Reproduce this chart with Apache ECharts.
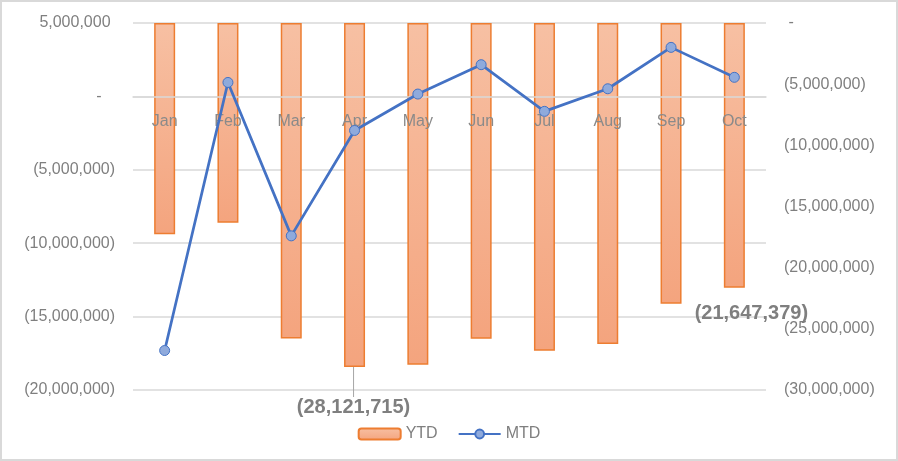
<!DOCTYPE html>
<html>
<head>
<meta charset="utf-8">
<script src="https://cdn.jsdelivr.net/npm/echarts@6/dist/echarts.min.js"></script>
<style>
  html, body { margin: 0; padding: 0; background: #fff; }
  #wrap { position: relative; width: 898px; height: 461px; }
  #chart { width: 898px; height: 461px; }
  #frame { position: absolute; left: 0; top: 0; width: 898px; height: 461px; box-sizing: border-box;
           border: 2px solid #d9d9d9; pointer-events: none; }
</style>
</head>
<body>
<div id="wrap">
  <div id="chart"></div>
  <div id="frame"></div>
</div>
<script>
// months on the category axis
const months = ['Jan', 'Feb', 'Mar', 'Apr', 'May', 'Jun', 'Jul', 'Aug', 'Sep', 'Oct'];

// YTD (bars, right axis)
const ytd = [-17270000, -16320000, -25780000, -28121715, -27940000, -25810000, -26790000, -26240000, -22950000, -21647379];

// MTD (line, left axis)
const mtd = [-17310000, 950000, -9500000, -2320000, 160000, 2160000, -1020000, 520000, 3340000, 1300000];

// which bars carry a data label
const labelledYtd = [3, 9];

const gray = '#7f7f7f';
const fontFamily = "'Liberation Sans', Arial, sans-serif";

function num(v) {
  return Math.abs(v).toLocaleString('en-US');
}
// accounting style, left axis is right aligned so pad like Excel does
function leftFmt(v) {
  if (v === 0) return '-   ';
  return v < 0 ? '(' + num(v) + ')' : num(v) + ' ';
}
function rightFmt(v) {
  if (v === 0) return ' -';
  return v < 0 ? '(' + num(v) + ')' : ' ' + num(v);
}

const barFill = new echarts.graphic.LinearGradient(0, 0, 0, 1, [
  { offset: 0, color: '#F7C0A3' },
  { offset: 1, color: '#F4A47E' }
]);

const ytdData = ytd.map((v, i) => {
  if (labelledYtd.indexOf(i) < 0) return v;
  return {
    value: v,
    label: {
      show: true,
      position: 'bottom',
      distance: 5,
      formatter: p => '(' + num(p.value) + ')',
      color: gray,
      fontSize: 20,
      fontWeight: 'bold',
      fontFamily: fontFamily
    },
    labelLine: { show: i === 3, lineStyle: { color: '#a6a6a6', width: 1 } }
  };
});

const chart = echarts.init(document.getElementById('chart'));
const option = {
  animation: false,
  textStyle: { fontFamily: fontFamily },
  grid: { left: 133, right: 132, top: 23, bottom: 71 },
  legend: {
    data: ['YTD', 'MTD'],
    left: 'center',
    top: 421,
    itemWidth: 42,
    itemHeight: 11,
    itemGap: 20,
    textStyle: { color: gray, fontSize: 16, fontFamily: fontFamily }
  },
  xAxis: {
    type: 'category',
    data: months,
    position: 'bottom',
    // category axis sits on the zero line of the left axis, drawn over the bars
    offset: -293,
    z: 3,
    axisTick: { show: false },
    axisLine: { show: true, onZero: false, lineStyle: { color: '#d9d9d9', width: 1.5 } },
    axisLabel: { color: '#8a8a8a', fontSize: 16, margin: 17 }
  },
  yAxis: [
    {
      type: 'value',
      min: -20000000,
      max: 5000000,
      interval: 5000000,
      axisLine: { show: false },
      axisTick: { show: false },
      splitLine: { lineStyle: { color: '#d9d9d9', width: 1.5 } },
      axisLabel: { color: gray, fontSize: 16, margin: 18, formatter: leftFmt }
    },
    {
      type: 'value',
      min: -30000000,
      max: 0,
      interval: 5000000,
      axisLine: { show: false },
      axisTick: { show: false },
      splitLine: { show: false },
      axisLabel: { color: gray, fontSize: 16, margin: 18, formatter: rightFmt }
    }
  ],
  series: [
    {
      name: 'YTD',
      type: 'bar',
      yAxisIndex: 1,
      z: 2,
      barWidth: 21,
      data: ytdData,
      itemStyle: { color: barFill, borderColor: '#ED7D31', borderWidth: 1.5 },
      labelLayout: function (p) {
        if (p.dataIndex === 3) return { dx: -1, dy: 25 };
        if (p.dataIndex === 9) return { dx: 17, dy: 11 };
      }
    },
    {
      name: 'MTD',
      type: 'line',
      yAxisIndex: 0,
      z: 4,
      data: mtd,
      symbol: 'circle',
      symbolSize: 10,
      lineStyle: { color: '#4472C4', width: 2.75 },
      itemStyle: { color: '#8FAADC', borderColor: '#4472C4', borderWidth: 1 }
    }
  ]
};
chart.setOption(option);
</script>
</body>
</html>
